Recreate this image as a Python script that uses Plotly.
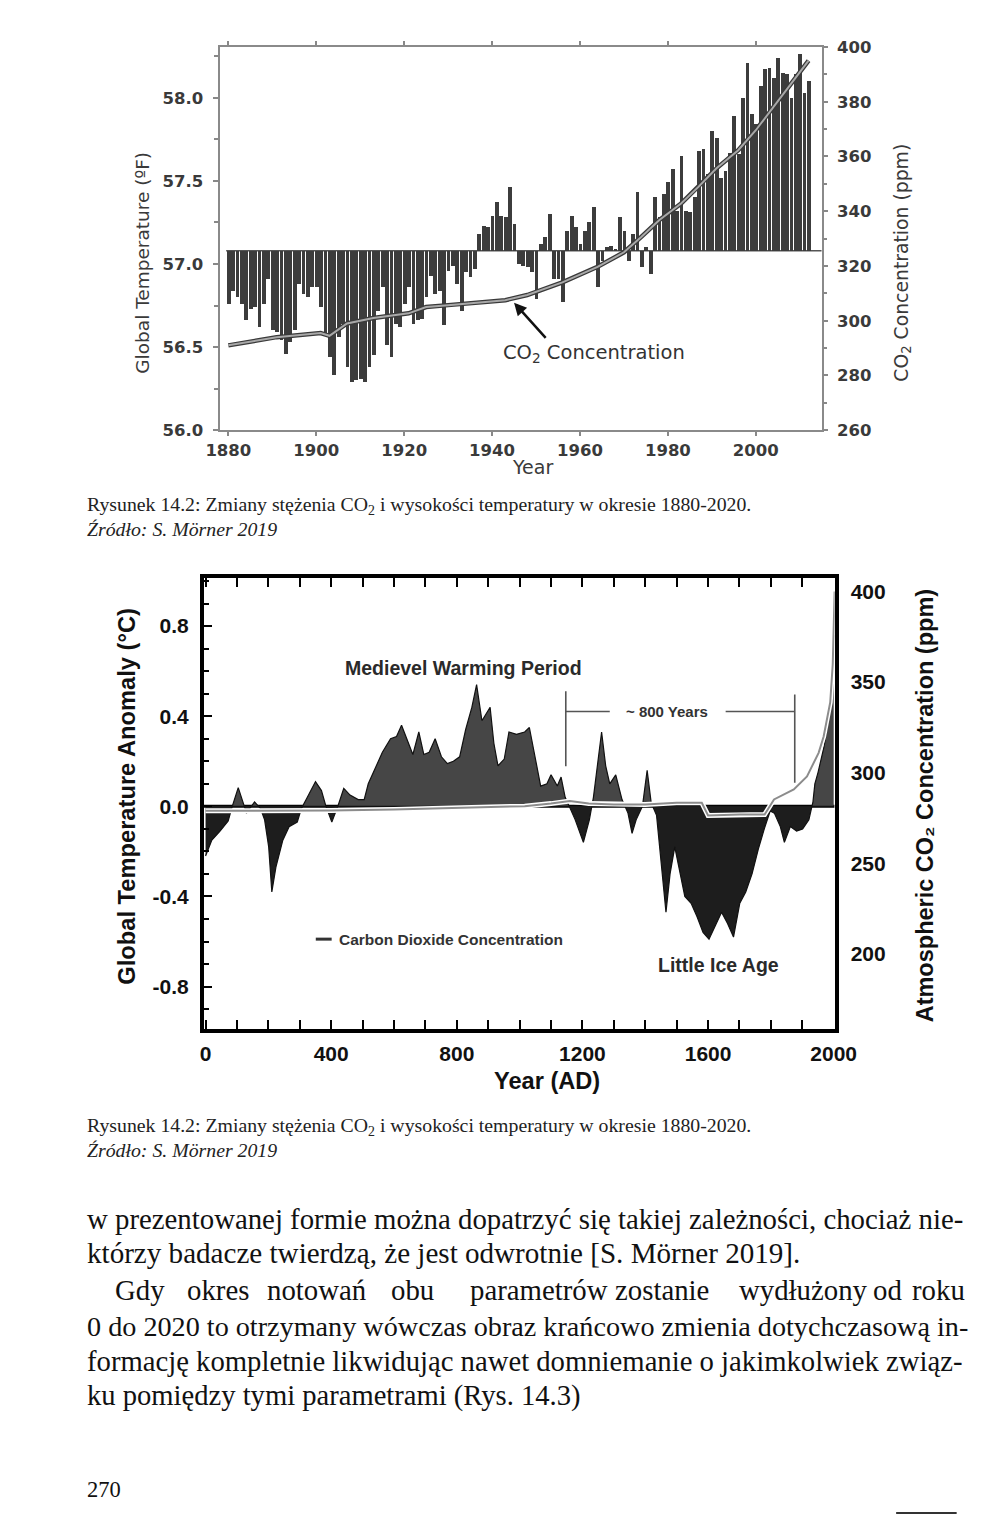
import plotly.graph_objects as go

W, H = 1008, 1522
# measured mapping between figure pixels and the captured picture
SX, OX = 0.972, 7.8
SY, OY = 0.9896, 7.9

# ---------------- Chart 1 data (1880-2012) ----------------
years_1 = list(range(1880, 2013))
temp_f = [
    56.76, 56.84, 56.80, 56.76, 56.66, 56.73, 56.74, 56.62, 56.76, 56.91,   # 1880-1889
    56.60, 56.59, 56.54, 56.46, 56.53, 56.60, 56.88, 56.82, 56.80, 56.86,   # 1890-1899
    56.86, 56.74, 56.58, 56.44, 56.33, 56.56, 56.64, 56.38, 56.29, 56.30,   # 1900-1909
    56.31, 56.29, 56.38, 56.45, 56.72, 56.86, 56.51, 56.44, 56.64, 56.62,   # 1910-1919
    56.76, 56.86, 56.64, 56.66, 56.67, 56.80, 56.93, 56.82, 56.84, 56.63,   # 1920-1929
    56.96, 56.99, 56.88, 56.72, 56.95, 56.92, 56.97, 57.18, 57.23, 57.22,   # 1930-1939
    57.29, 57.37, 57.29, 57.28, 57.46, 57.24, 57.00, 56.99, 56.98, 56.95,   # 1940-1949
    56.79, 57.12, 57.16, 57.30, 56.91, 56.91, 56.77, 57.20, 57.29, 57.22,   # 1950-1959
    57.12, 57.20, 57.25, 57.34, 56.86, 57.02, 57.10, 57.11, 57.09, 57.28,   # 1960-1969
    57.20, 57.02, 57.18, 57.43, 56.98, 57.10, 56.94, 57.40, 57.28, 57.42,   # 1970-1979
    57.49, 57.57, 57.32, 57.65, 57.32, 57.31, 57.40, 57.68, 57.69, 57.54,   # 1980-1989
    57.80, 57.76, 57.52, 57.56, 57.67, 57.89, 57.66, 58.00, 58.21, 57.90,   # 1990-1999
    57.84, 58.07, 58.17, 58.18, 58.12, 58.24, 58.15, 58.14, 58.00, 58.14,   # 2000-2009
    58.26, 58.03, 58.10,                                                    # 2010-2012
]
base_f = 57.08

co2_years_1 = [1880, 1891, 1901, 1903, 1907, 1913, 1921, 1925, 1930, 1943, 1948, 1956,
               1964, 1970, 1974, 1978, 1983, 1987, 1991, 1996, 2000, 2004, 2008, 2012]
co2_ppm_1 = [291, 294, 295.5, 294.5, 299, 301, 302.7, 305, 305.7, 307.5, 309.4, 314,
             319.7, 325, 330.7, 336.7, 342.8, 349, 355.6, 362.3, 369.6, 378, 386.6, 395]

x1_ticks = [1880, 1900, 1920, 1940, 1960, 1980, 2000]
y1_ticks = [56.0, 56.5, 57.0, 57.5, 58.0]
y2_ticks = [260, 280, 300, 320, 340, 360, 380, 400]

# ---------------- Chart 2 data (0-2000 AD) ----------------
years_2 = [0, 20, 46, 72, 85, 104, 117, 130, 156, 175, 188, 201, 211, 224, 246, 266, 292, 305,
           324, 350, 369, 382, 402, 421, 440, 460, 486, 505, 518, 537, 563, 589, 608, 624, 641,
           660, 679, 695, 712, 731, 751, 770, 789, 809, 828, 848, 863, 880, 893, 906, 918, 931,
           951, 966, 990, 1016, 1031, 1048, 1067, 1087, 1100, 1120, 1132, 1145, 1158, 1177,
           1203, 1222, 1235, 1255, 1261, 1274, 1287, 1306, 1326, 1345, 1358, 1371, 1391, 1406,
           1419, 1436, 1449, 1466, 1479, 1494, 1507, 1526, 1546, 1565, 1584, 1603, 1623, 1643,
           1662, 1681, 1701, 1720, 1740, 1760, 1779, 1798, 1811, 1830, 1843, 1862, 1882, 1901,
           1921, 1934, 1940, 1950, 1960, 1970, 1980, 1990, 2000]
anom_2 = [-0.22, -0.15, -0.11, -0.065, 0.0, 0.083, 0.03, -0.03, 0.02, -0.01, -0.06, -0.18,
          -0.38, -0.27, -0.15, -0.09, -0.07, -0.01, 0.04, 0.11, 0.07, 0.005, -0.07, 0.0, 0.08,
          0.05, 0.03, 0.03, 0.10, 0.16, 0.24, 0.30, 0.31, 0.36, 0.30, 0.23, 0.33, 0.23, 0.24,
          0.30, 0.22, 0.19, 0.20, 0.22, 0.34, 0.44, 0.54, 0.38, 0.41, 0.44, 0.28, 0.18, 0.21,
          0.33, 0.32, 0.33, 0.35, 0.23, 0.09, 0.10, 0.14, 0.09, 0.13, 0.04, 0.0, -0.06, -0.16,
          -0.06, 0.04, 0.25, 0.33, 0.18, 0.10, 0.14, 0.03, -0.03, -0.12, -0.06, 0.0, 0.16,
          0.015, -0.04, -0.22, -0.47, -0.30, -0.18, -0.27, -0.40, -0.43, -0.49, -0.56, -0.59,
          -0.53, -0.47, -0.52, -0.58, -0.43, -0.38, -0.30, -0.19, -0.10, -0.02, -0.03, -0.09,
          -0.16, -0.09, -0.11, -0.10, -0.06, 0.02, 0.10, 0.15, 0.21, 0.27, 0.36, 0.50, 0.76]

co2_years_2 = [0, 200, 400, 600, 800, 1016, 1100, 1160, 1220, 1300, 1400, 1500, 1580, 1600,
               1700, 1780, 1810, 1873, 1915, 1952, 1968, 1989, 1997, 2003]
co2_ppm_2 = [279, 279, 279.2, 279.8, 280.5, 281.6, 283, 284.4, 283, 282.5, 282.5, 283.5, 283.5,
             276.5, 277, 277, 285.3, 290.8, 298, 311, 320, 339, 360, 400]

x2_ticks = [0, 400, 800, 1200, 1600, 2000]
y3_ticks = [-0.8, -0.4, 0.0, 0.4, 0.8]
y4_ticks = [200, 250, 300, 350, 400]


def px_x(px):
    return ((px - OX) / SX) / W


def px_y(py):
    return 1 - ((py - OY) / SY) / H


fig = go.Figure()

# ---------- chart 1 ----------
fig.add_trace(go.Bar(
    x=years_1, y=[t - base_f for t in temp_f], base=base_f, width=0.86,
    marker=dict(color="#3c3c3c", line=dict(width=0)),
    xaxis="x", yaxis="y", showlegend=False, hoverinfo="skip"))
fig.add_trace(go.Scatter(
    x=co2_years_1, y=co2_ppm_1, mode="lines", line=dict(color="#3a3a3a", width=4.5),
    xaxis="x", yaxis="y2", showlegend=False, hoverinfo="skip"))
fig.add_trace(go.Scatter(
    x=co2_years_1, y=co2_ppm_1, mode="lines", line=dict(color="#a8a8a8", width=2),
    xaxis="x", yaxis="y2", showlegend=False, hoverinfo="skip"))

# ---------- chart 2 ----------
X, P, N = [], [], []
for i in range(len(years_2)):
    if i > 0:
        a, b = anom_2[i - 1], anom_2[i]
        if (a < 0 < b) or (a > 0 > b):
            t = a / (a - b)
            X.append(years_2[i - 1] + t * (years_2[i] - years_2[i - 1]))
            P.append(0.0)
            N.append(0.0)
    X.append(years_2[i])
    P.append(max(anom_2[i], 0.0))
    N.append(min(anom_2[i], 0.0))

fig.add_trace(go.Scatter(
    x=X, y=P, mode="lines", fill="tozeroy", fillcolor="#464646",
    line=dict(color="#111111", width=1.2), xaxis="x2", yaxis="y3",
    showlegend=False, hoverinfo="skip"))
fig.add_trace(go.Scatter(
    x=X, y=N, mode="lines", fill="tozeroy", fillcolor="#1d1d1d",
    line=dict(color="#111111", width=1.2), xaxis="x2", yaxis="y3",
    showlegend=False, hoverinfo="skip"))
fig.add_trace(go.Scatter(
    x=co2_years_2, y=co2_ppm_2, mode="lines", line=dict(color="#ffffff", width=5),
    xaxis="x2", yaxis="y4", showlegend=False, hoverinfo="skip"))
fig.add_trace(go.Scatter(
    x=co2_years_2, y=co2_ppm_2, mode="lines", line=dict(color="#8c8c8c", width=2),
    xaxis="x2", yaxis="y4", showlegend=False, hoverinfo="skip"))

c1_tick = dict(family="DejaVu Sans", size=16.5, color="#3a3a3a", weight="bold")
c2_tick = dict(family="Liberation Sans", size=21, color="#111111", weight="bold")

fig.update_layout(
    width=W, height=H, autosize=False,
    margin=dict(l=0, r=0, t=0, b=0),
    paper_bgcolor="white", plot_bgcolor="white",
    bargap=0, showlegend=False,
    xaxis=dict(
        domain=[px_x(215), px_x(822)], anchor="y", range=[1878, 2015],
        tickvals=x1_ticks, ticktext=[str(v) for v in x1_ticks],
        ticks="outside", ticklen=4, tickwidth=1.5, tickcolor="#888",
        showline=True, linecolor="#8a8a8a", linewidth=2, mirror="allticks",
        showgrid=False, zeroline=False, tickfont=c1_tick, ticklabelstandoff=0),
    yaxis=dict(
        domain=[px_y(430), px_y(46)], anchor="x", range=[56.0, 58.305],
        tickvals=y1_ticks, ticktext=["%.1f" % v for v in y1_ticks],
        ticks="outside", ticklen=5, tickwidth=1.5, tickcolor="#888",
        minor=dict(dtick=0.25, tick0=56.0, ticks="outside", ticklen=4, tickcolor="#888"),
        showline=True, linecolor="#8a8a8a", linewidth=2, mirror=True,
        showgrid=False, zeroline=False, tickfont=c1_tick, ticklabelstandoff=6),
    yaxis2=dict(
        overlaying="y", side="right", anchor="x", range=[260, 400],
        tickvals=y2_ticks, ticktext=[str(v) for v in y2_ticks],
        ticks="outside", ticklen=5, tickwidth=1.5, tickcolor="#888",
        minor=dict(dtick=10, tick0=260, ticks="outside", ticklen=4, tickcolor="#888"),
        showline=False, showgrid=False, zeroline=False, tickfont=c1_tick,
        ticklabelstandoff=6),
    xaxis2=dict(
        domain=[px_x(199), px_x(835)], anchor="y3", range=[-6, 2003],
        tickvals=x2_ticks, ticktext=[str(v) for v in x2_ticks],
        ticks="inside", ticklen=9, tickwidth=2, tickcolor="#000",
        minor=dict(dtick=100, tick0=0, ticks="inside", ticklen=6, tickwidth=2, tickcolor="#000"),
        showline=True, linecolor="#000", linewidth=3.5, mirror="allticks",
        showgrid=False, zeroline=False, tickfont=c2_tick, ticklabelstandoff=3),
    yaxis3=dict(
        domain=[px_y(1030), px_y(578)], anchor="x2", range=[-0.988, 1.014],
        tickvals=y3_ticks, ticktext=["%.1f" % v for v in y3_ticks],
        ticks="inside", ticklen=9, tickwidth=2, tickcolor="#000",
        minor=dict(dtick=0.1, tick0=0, ticks="inside", ticklen=6, tickwidth=2, tickcolor="#000"),
        showline=True, linecolor="#000", linewidth=3.5, mirror=True,
        showgrid=False, zeroline=False, tickfont=c2_tick, ticklabelstandoff=7),
    yaxis4=dict(
        overlaying="y3", side="right", anchor="x2", range=[158.7, 407.5],
        tickvals=y4_ticks, ticktext=[str(v) for v in y4_ticks],
        ticks="", showline=False, showgrid=False, zeroline=False,
        tickfont=c2_tick, ticklabelstandoff=15),
)

shapes = [
    # chart 1 baseline
    dict(type="line", xref="x", yref="y", x0=1879.5, x1=2015, y0=base_f, y1=base_f,
         line=dict(color="#555", width=1.5), layer="below"),
    # chart 2 zero line
    dict(type="line", xref="x2", yref="y3", x0=-6, x1=2003, y0=0, y1=0,
         line=dict(color="#000", width=3), layer="below"),
    # ~800 years bracket
    dict(type="line", xref="x2", yref="y3", x0=1147, x1=1147, y0=0.178, y1=0.511,
         line=dict(color="#555", width=1.6)),
    dict(type="line", xref="x2", yref="y3", x0=1876, x1=1876, y0=0.105, y1=0.496,
         line=dict(color="#555", width=1.6)),
    dict(type="line", xref="x2", yref="y3", x0=1147, x1=1287, y0=0.421, y1=0.421,
         line=dict(color="#555", width=1.4)),
    dict(type="line", xref="x2", yref="y3", x0=1656, x1=1876, y0=0.421, y1=0.421,
         line=dict(color="#555", width=1.4)),
    # legend dash
    dict(type="line", xref="paper", yref="paper", x0=px_x(312), x1=px_x(328),
         y0=px_y(940), y1=px_y(940), line=dict(color="#333", width=3)),
    # page corner mark
    dict(type="rect", xref="paper", yref="paper", x0=px_x(897), x1=px_x(958),
         y0=0, y1=px_y(1516), fillcolor="#333", line=dict(width=0)),
]
fig.update_layout(shapes=shapes)

ann = []


def text(t, x, y, size, family="Liberation Serif", color="#111", xanchor="left",
         angle=0, yanchor="middle"):
    ann.append(dict(text=t, x=px_x(x), y=px_y(y), xref="paper", yref="paper",
                    showarrow=False, xanchor=xanchor, yanchor=yanchor, textangle=angle,
                    borderpad=0,
                    font=dict(family=family, size=size, color=color)))


# chart 1 titles
text("Global Temperature (ºF)", 137, 262, 18.5, "DejaVu Sans", "#3a3a3a", "center", -90)
text("CO<sub>2</sub> Concentration (ppm)", 903, 262, 18.8, "DejaVu Sans", "#3a3a3a", "center", -90)
text("Year", 530, 467, 19, "DejaVu Sans", "#3a3a3a", "center")
text("CO<sub>2</sub> Concentration", 592, 353, 19.5, "DejaVu Sans", "#333", "center")
ann.append(dict(x=1945, y=306.6, xref="x", yref="y2", ax=1952.5, ay=293.2, axref="x",
                ayref="y2", showarrow=True, arrowhead=2, arrowsize=1, arrowwidth=2.5,
                arrowcolor="#111", text=""))

# chart 2 titles / labels
text("<b>Global Temperature Anomaly (°C)</b>", 122, 797, 23.7, "Liberation Sans", "#111", "center", -90)
text("<b>Atmospheric CO₂ Concentration (ppm)</b>", 927, 806, 23.5, "Liberation Sans", "#111", "center", -90)
text("<b>Year (AD)</b>", 545, 1082, 23.6, "Liberation Sans", "#111", "center")
text("<b>Medievel Warming Period</b>", 461, 668, 19.5, "Liberation Sans", "#2a2a2a", "center")
text("<b>~ 800 Years</b>", 666, 712, 15, "Liberation Sans", "#333", "center")
text("<b>Little Ice Age</b>", 718, 966, 19.5, "Liberation Sans", "#2a2a2a", "center")
text("<b>Carbon Dioxide Concentration</b>", 334, 940, 15.5, "Liberation Sans", "#333", "left")

# captions
cap = "Rysunek 14.2: Zmiany stężenia CO<sub>2</sub> i wysokości temperatury w okresie 1880-2020."
src = "<i>Źródło: S. Mörner 2019</i>"
LX = 80
text(cap, LX, 505, 19.8, "Liberation Serif", "#222")
text(src, LX, 529, 19.8, "Liberation Serif", "#222")
text(cap, LX, 1128, 19.8, "Liberation Serif", "#222")
text(src, LX, 1151, 19.8, "Liberation Serif", "#222")

# body text
text("w prezentowanej formie można dopatrzyć się takiej zależności, chociaż nie-", LX, 1220, 28.8)
text("którzy badacze twierdzą, że jest odwrotnie [S. Mörner 2019].", LX, 1255, 29.1)
words3 = ["Gdy", "okres", "notowań", "obu", "parametrów", "zostanie", "wydłużony", "od"]
pos3 = [109, 181, 262, 387, 466, 613, 738, 873]
for w_, p_ in zip(words3, pos3):
    text(w_, p_, 1292, 28.8)
text("roku", 967, 1292, 28.8, xanchor="right")
text("0 do 2020 to otrzymany wówczas obraz krańcowo zmienia dotychczasową in-", LX, 1328, 28.2)
text("formację kompletnie likwidując nawet domniemanie o jakimkolwiek związ-", LX, 1363, 28.7)
text("ku pomiędzy tymi parametrami (Rys. 14.3)", LX, 1398, 28.6)
text("270", LX, 1492, 22.5)

fig.update_layout(annotations=ann)

fig.write_html(
    "out.html",
    config={"displayModeBar": False, "responsive": False},
    post_script="document.body.style.margin='0';document.documentElement.style.margin='0';",
)
